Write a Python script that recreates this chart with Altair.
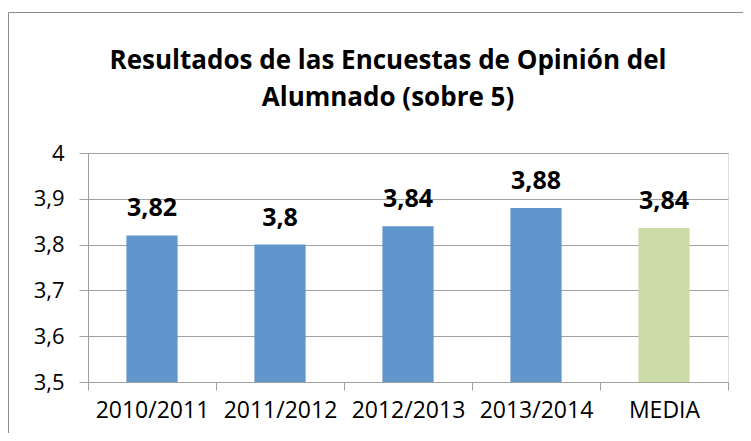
import altair as alt
import pandas as pd

categories = ["2010/2011", "2011/2012", "2012/2013", "2013/2014", "MEDIA"]
values = [3.82, 3.80, 3.84, 3.88, 3.836]
labels = ["3,82", "3,8", "3,84", "3,88", "3,84"]
colors = ["#6096CB", "#6096CB", "#6096CB", "#6096CB", "#CCDCA8"]
y_ticks = [3.5, 3.6, 3.7, 3.8, 3.9, 4.0]
title_lines = ["Resultados de las Encuestas de Opinión del", "Alumnado (sobre 5)"]

df = pd.DataFrame({"cat": categories, "value": values, "label": labels, "color": colors})

FONT = "Open Sans"
GRAY = "#A0A0A0"

x = alt.X(
    "cat:N", sort=categories, title=None,
    scale=alt.Scale(paddingInner=0, paddingOuter=0),
    axis=alt.Axis(labelAngle=0, tickBand="extent", labelFont=FONT, labelFontSize=23,
                  labelColor="black", tickSize=8, tickColor=GRAY, domainColor=GRAY,
                  labelPadding=9, grid=False),
)
y = alt.Y(
    "value:Q", title=None,
    scale=alt.Scale(domain=[3.5, 4.0], zero=False, nice=False),
    axis=alt.Axis(values=y_ticks,
                  labelExpr="replace(format(datum.value, '.1~f'), '.', ',')",
                  labelFont=FONT, labelFontSize=22, labelColor="black",
                  tickSize=9, tickColor=GRAY, domainColor=GRAY,
                  gridColor=GRAY, gridWidth=1, labelPadding=15),
)

bars = alt.Chart(df).mark_bar(width=alt.RelativeBandSize(0.4), clip=True).encode(
    x=x, y=y, color=alt.Color("color:N", scale=None)
)
text = alt.Chart(df).mark_text(
    baseline="bottom", dy=-14, font=FONT, fontSize=25, fontWeight="bold", color="black"
).encode(x=alt.X("cat:N", sort=categories), y="value:Q", text="label:N")

one = pd.DataFrame({"a": [0]})
border = alt.Chart(one).mark_rect(
    fillOpacity=0, stroke="#8C8C8C", strokeWidth=1
).encode(x=alt.value(-79.5), x2=alt.value(700), y=alt.value(-140.5), y2=alt.value(400))

title1 = alt.Chart(pd.DataFrame({"t": [title_lines[0]]})).mark_text(
    font=FONT, fontSize=26, fontWeight="bold", color="black", align="center", baseline="alphabetic"
).encode(text="t:N", x=alt.value(300), y=alt.value(-84))
title2 = alt.Chart(pd.DataFrame({"t": [title_lines[1]]})).mark_text(
    font=FONT, fontSize=26, fontWeight="bold", color="black", align="center", baseline="alphabetic"
).encode(text="t:N", x=alt.value(300), y=alt.value(-47))

chart = alt.layer(border, bars, text, title1, title2).properties(
    width=640, height=229,
    autosize=alt.AutoSizeParams(type="none"),
    padding={"left": 80, "top": 145, "right": 15, "bottom": 51},
).configure_view(strokeWidth=0).configure(background="white")

chart.save("out.html", embed_options={"renderer": "svg", "actions": False})
